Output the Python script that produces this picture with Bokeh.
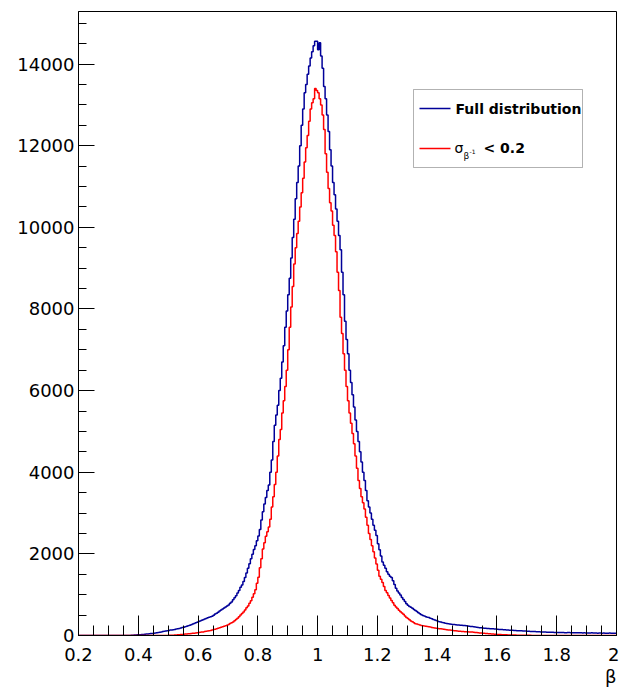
import numpy as np
from bokeh.plotting import figure
from bokeh.models import FixedTicker, SingleIntervalTicker, Label, BoxAnnotation, Title
from bokeh.embed import file_html
from bokeh.resources import INLINE

# ---------------- data ----------------
bin_low = 0.2
bin_width = 0.005

# "Full distribution" counts, one row per 0.05 in beta (10 bins of 0.005)
full_counts = [
    0, 0, 0, 0, 0, 0, 0, 0, 0, 0,                                        # 0.20
    0, 0, 0, 0, 0, 0, 0, 0, 0, 0,                                        # 0.25
    0, 0, 0, 0, 0, 0, 0, 0, 0, 0,                                        # 0.30
    0, 0, 0, 0, 3, 6, 8, 11, 14, 16,                                     # 0.35
    18, 21, 24, 27, 30, 34, 38, 42, 47, 52,                              # 0.40
    57, 62, 69, 75, 82, 88, 96, 104, 112, 119,                           # 0.45
    124, 132, 137, 143, 150, 160, 166, 174, 185, 195,                    # 0.50
    203, 217, 229, 241, 254, 266, 283, 297, 313, 327,                    # 0.55
    343, 357, 372, 388, 402, 418, 432, 448, 458, 472,                    # 0.60
    495, 525, 548, 572, 598, 622, 648, 672, 698, 722,                    # 0.65
    748, 792, 822, 878, 925, 975, 1040, 1100, 1180, 1240,                # 0.70
    1320, 1420, 1530, 1650, 1760, 1880, 1990, 2110, 2200, 2320,          # 0.75
    2440, 2600, 2830, 3030, 3220, 3380, 3550, 3690, 4000, 4300,          # 0.80
    4750, 5150, 5400, 5640, 6000, 6300, 6700, 7100, 7550, 7950,          # 0.85
    8350, 8750, 9250, 9750, 10200, 10700, 11100, 11500, 12000, 12500,    # 0.90
    12900, 13300, 13500, 13750, 13950, 14150, 14300, 14450, 14560, 14560,  # 0.95
    14350, 14520, 14200, 13900, 13450, 13150, 12750, 12350, 11900, 11500,  # 1.00
    11100, 10800, 10450, 10150, 9800, 9450, 8900, 8350, 7700, 7250,      # 1.05
    6900, 6500, 6200, 5900, 5600, 5280, 5000, 4750, 4500, 4250,          # 1.10
    4000, 3800, 3550, 3300, 3150, 3000, 2850, 2700, 2580, 2450,          # 1.15
    2250, 2100, 1950, 1800, 1720, 1650, 1560, 1500, 1450, 1420,          # 1.20
    1340, 1250, 1160, 1090, 1040, 990, 930, 880, 830, 780,               # 1.25
    740, 710, 690, 670, 640, 610, 585, 560, 535, 510,                    # 1.30
    490, 475, 462, 450, 440, 425, 410, 395, 380, 365,                    # 1.35
    350, 335, 330, 320, 310, 300, 295, 288, 283, 278,                    # 1.40
    272, 268, 265, 260, 258, 252, 250, 246, 242, 238,                    # 1.45
    234, 228, 222, 218, 214, 210, 204, 198, 192, 188,                    # 1.50
    185, 180, 177, 173, 171, 168, 166, 163, 161, 158,                    # 1.55
    153, 148, 147, 144, 141, 138, 136, 133, 131, 128,                    # 1.60
    126, 123, 121, 119, 118, 117, 116, 113, 111, 108,                    # 1.65
    106, 103, 101, 99, 98, 96, 94, 92, 90, 88,                           # 1.70
    86, 85, 83, 82, 81, 79, 78, 77, 76, 75,                              # 1.75
    74, 76, 73, 72, 71, 69, 70, 73, 71, 70,                              # 1.80
    68, 66, 70, 67, 65, 69, 66, 64, 67, 63,                              # 1.85
    64, 62, 61, 65, 63, 60, 62, 58, 61, 59,                              # 1.90
    57, 60, 55, 58, 54, 59, 56, 55, 53, 54,                              # 1.95
]

# "sigma_{beta^-1} < 0.2" counts
cut_counts = [
    0, 0, 0, 0, 0, 0, 0, 0, 0, 0,                                        # 0.20
    0, 0, 0, 0, 0, 0, 0, 0, 0, 0,                                        # 0.25
    0, 0, 0, 0, 0, 0, 0, 0, 0, 0,                                        # 0.30
    0, 0, 0, 0, 0, 0, 0, 0, 0, 0,                                        # 0.35
    0, 0, 0, 0, 0, 0, 0, 0, 0, 0,                                        # 0.40
    0, 0, 0, 0, 0, 0, 0, 0, 0, 0,                                        # 0.45
    4, 6, 7, 9, 11, 13, 16, 20, 23, 27,                                  # 0.50
    30, 34, 38, 42, 45, 49, 53, 58, 63, 68,                              # 0.55
    72, 78, 83, 88, 96, 104, 112, 118, 125, 135,                         # 0.60
    145, 155, 165, 176, 188, 202, 215, 226, 238, 252,                    # 0.65
    268, 292, 310, 330, 360, 390, 420, 460, 500, 540,                    # 0.70
    575, 625, 680, 720, 790, 850, 940, 1020, 1120, 1280,                 # 0.75
    1430, 1660, 1880, 2120, 2270, 2430, 2540, 2660, 2850, 3150,          # 0.80
    3400, 3700, 4000, 4400, 4800, 5050, 5450, 5750, 6100, 6500,          # 0.85
    7000, 7550, 8050, 8550, 9100, 9500, 9850, 10150, 10500, 10850,       # 0.90
    11200, 11600, 11950, 12250, 12600, 12900, 13050, 13150, 13400, 13350,  # 0.95
    13300, 13150, 13000, 12750, 12400, 11800, 11350, 10950, 10600, 10400,  # 1.00
    10050, 9800, 9400, 8900, 8450, 7800, 7400, 6900, 6500, 6100,         # 1.05
    5750, 5450, 5200, 4950, 4700, 4400, 4100, 3800, 3600, 3400,          # 1.10
    3250, 3100, 2900, 2700, 2500, 2350, 2200, 2050, 1900, 1750,          # 1.15
    1600, 1450, 1380, 1300, 1200, 1100, 1050, 980, 920, 860,             # 1.20
    800, 740, 700, 660, 620, 580, 550, 520, 475, 440,                    # 1.25
    415, 385, 355, 335, 310, 290, 280, 268, 256, 248,                    # 1.30
    240, 232, 226, 220, 212, 206, 198, 192, 186, 180,                    # 1.35
    174, 168, 164, 158, 152, 148, 142, 136, 132, 126,                    # 1.40
    122, 117, 114, 110, 107, 103, 100, 96, 93, 91,                       # 1.45
    89, 87, 85, 83, 80, 76, 72, 68, 64, 60,                              # 1.50
    57, 54, 50, 47, 44, 41, 38, 35, 32, 29,                              # 1.55
    27, 25, 23, 21, 20, 18, 17, 15, 14, 13,                              # 1.60
    12, 11, 10, 9, 8, 8, 7, 6, 6, 5,                                     # 1.65
    5, 4, 4, 3, 2, 1, 0, 0, 0, 0,                                        # 1.70
    0, 0, 0, 0, 0, 0, 0, 0, 0, 0,                                        # 1.75
    0, 0, 0, 0, 0, 0, 0, 0, 0, 0,                                        # 1.80
    0, 0, 0, 0, 0, 0, 0, 0, 0, 0,                                        # 1.85
    0, 0, 0, 0, 0, 0, 0, 0, 0, 0,                                        # 1.90
    0, 0, 0, 0, 0, 0, 0, 0, 0, 0,                                        # 1.95
]

x_ticks = [0.2, 0.4, 0.6, 0.8, 1.0, 1.2, 1.4, 1.6, 1.8, 2.0]
x_tick_labels = ["0.2", "0.4", "0.6", "0.8", "1", "1.2", "1.4", "1.6", "1.8", "2"]
legend_labels = ["Full distribution", "\u03c3", "\u03b2", "-1", "< 0.2"]
x_axis_title = "\u03b2"

# ---------------- layout ----------------
W, H = 619, 689
L, R, T, B = 78, 3, 11, 54
X_MIN, X_MAX = 0.2, 2.0
Y_MAX = 15288

p = figure(width=W, height=H, x_range=(X_MIN, X_MAX), y_range=(0, Y_MAX),
           output_backend="svg", toolbar_location=None,
           min_border_left=L, min_border_right=R, min_border_top=T, min_border_bottom=B)
p.grid.visible = False
p.background_fill_color = "white"
p.border_fill_color = "white"
p.outline_line_color = "black"
p.outline_line_width = 1

FONT = "DejaVu Sans"

# x axis
p.xaxis.ticker = FixedTicker(ticks=x_ticks,
                             minor_ticks=[float(v) for v in np.round(np.arange(0.2, 2.0001, 0.05), 2)])
p.xaxis.major_label_overrides = {t: l for t, l in zip(x_ticks, x_tick_labels)}
p.xaxis.major_tick_in = 20
p.xaxis.major_tick_out = 0
p.xaxis.minor_tick_in = 10
p.xaxis.minor_tick_out = 0
p.xaxis.major_label_text_font = FONT
p.xaxis.major_label_text_font_size = "18px"
p.xaxis.major_label_text_color = "black"
p.xaxis.major_label_standoff = 12
p.xaxis.axis_line_color = "black"
p.xaxis.major_tick_line_color = "black"
p.xaxis.minor_tick_line_color = "black"

# y axis
p.yaxis.ticker = SingleIntervalTicker(interval=2000, num_minor_ticks=4)
p.yaxis.major_tick_in = 16
p.yaxis.major_tick_out = 0
p.yaxis.minor_tick_in = 8
p.yaxis.minor_tick_out = 0
p.yaxis.major_label_text_font = FONT
p.yaxis.major_label_text_font_size = "18px"
p.yaxis.major_label_text_color = "black"
p.yaxis.major_label_standoff = 4
p.yaxis.axis_line_color = "black"
p.yaxis.major_tick_line_color = "black"
p.yaxis.minor_tick_line_color = "black"

# x axis title, right aligned under the axis (ROOT style)
p.add_layout(Title(text=x_axis_title, align="right", text_font=FONT, text_font_size="18px",
                   text_font_style="normal", text_color="black", standoff=0, offset=0), "below")


def step_xy(counts):
    edges = bin_low + bin_width * np.arange(len(counts) + 1)
    xs = np.repeat(edges, 2)[1:-1]
    ys = np.repeat(np.asarray(counts, dtype=float), 2)
    return xs, ys


BLUE = "#000099"
RED = "#ff0000"

xs, ys = step_xy(full_counts)
p.line(xs, ys, line_color=BLUE, line_width=1.5)
xs, ys = step_xy(cut_counts)
p.line(xs, ys, line_color=RED, line_width=1.5)

# pixel -> data helpers for decorations
fw = W - L - R
fh = H - T - B


def dx(px):
    return X_MIN + (px - L) / fw * (X_MAX - X_MIN)


def dy(py):
    return (T + fh - py) / fh * Y_MAX


# legend
p.add_layout(BoxAnnotation(left=dx(413), right=dx(582), top=dy(89), bottom=dy(167),
                           fill_color="white", fill_alpha=1.0, line_color="black",
                           line_width=1, level="underlay"))
p.line([dx(419), dx(450)], [dy(108), dy(108)], line_color=BLUE, line_width=1.5)
p.line([dx(419), dx(450)], [dy(148), dy(148)], line_color=RED, line_width=1.5)

p.add_layout(Label(x=dx(455), y=dy(108), text=legend_labels[0], text_font=FONT,
                   text_font_style="bold", text_font_size="14px", text_color="black",
                   text_baseline="middle", text_align="left"))
p.add_layout(Label(x=dx(454), y=dy(147), text=legend_labels[1], text_font=FONT,
                   text_font_size="14px", text_color="black",
                   text_baseline="alphabetic", text_align="left"))
p.add_layout(Label(x=dx(463), y=dy(155), text=legend_labels[2], text_font=FONT,
                   text_font_size="9px", text_color="black",
                   text_baseline="alphabetic", text_align="left"))
p.add_layout(Label(x=dx(469), y=dy(151), text=legend_labels[3], text_font=FONT,
                   text_font_size="6px", text_color="black",
                   text_baseline="alphabetic", text_align="left"))
p.add_layout(Label(x=dx(483), y=dy(147), text=legend_labels[4], text_font=FONT,
                   text_font_style="bold", text_font_size="14px", text_color="black",
                   text_baseline="alphabetic", text_align="left"))

open("out.html", "w").write(file_html(p, INLINE))
